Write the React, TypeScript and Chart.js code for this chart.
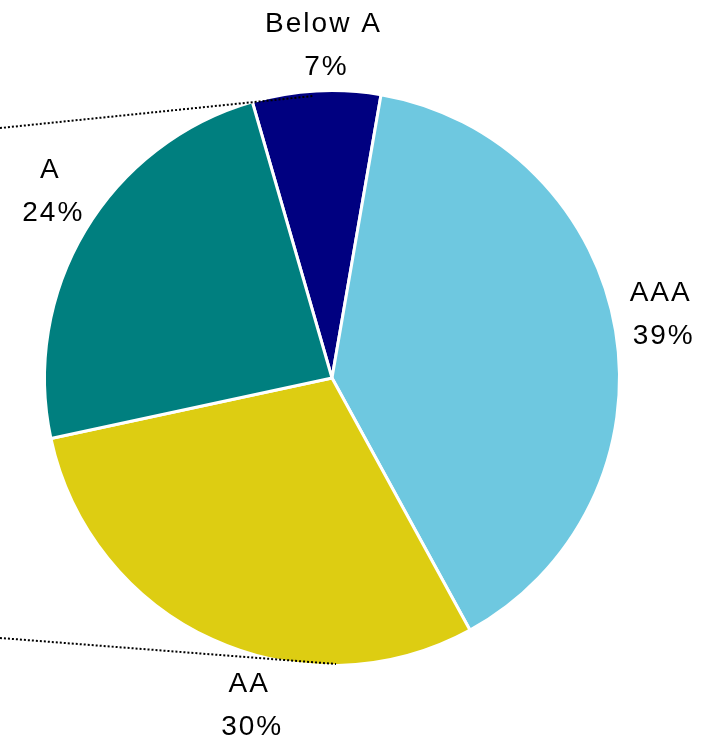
import React, { useEffect, useRef } from "react";
import { Chart, registerables } from "chart.js";

Chart.register(...registerables);

const categories = ["Below A", "AAA", "AA", "A"];
const shares = [7.2, 39.3, 29.6, 23.9];
const colors = ["#000080", "#6EC8E0", "#DDCD12", "#007F7F"];
// label placement tweaks (degrees off the slice middle, distance in radius units)
const labelAngleShift = [1.5, -1.5, -10.2, 2.6];
const labelDistance = [1.163, 1.167, 1.18, 1.185];
// decorative dotted connector lines (in radius units, relative to pie centre)
const connectors = [
  [[-1.161, -0.874], [-0.066, -0.986]],
  [[-1.161, 0.909], [0.014, 1.0]],
];

const labelPlugin = {
  id: "outerLabels",
  afterDraw(chart: any) {
    const ctx = chart.ctx;
    const meta = chart.getDatasetMeta(0);
    const arc0 = meta.data[0];
    const cx = arc0.x;
    const cy = arc0.y;
    const R = arc0.outerRadius - 1.5;

    ctx.save();
    ctx.strokeStyle = "#000";
    ctx.lineWidth = 2;
    ctx.setLineDash([2, 2]);
    connectors.forEach((seg) => {
      ctx.beginPath();
      ctx.moveTo(cx + seg[0][0] * R, cy + seg[0][1] * R);
      ctx.lineTo(cx + seg[1][0] * R, cy + seg[1][1] * R);
      ctx.stroke();
    });
    ctx.restore();

    ctx.save();
    ctx.font = "28px 'Liberation Sans', Arial, sans-serif";
    ctx.fillStyle = "#000";
    ctx.textAlign = "center";
    ctx.textBaseline = "middle";
    try {
      (ctx as any).letterSpacing = "2px";
    } catch (e) {}
    meta.data.forEach((arc: any, i: number) => {
      const mid = (arc.startAngle + arc.endAngle) / 2 + (labelAngleShift[i] * Math.PI) / 180;
      const d = R * labelDistance[i];
      const x = cx + Math.cos(mid) * d + 1;
      const y = cy + Math.sin(mid) * d;
      const pct = Math.round(shares[i]) + "%";
      ctx.fillText(categories[i], x, y - 21);
      ctx.fillText(pct, x + 3, y + 22);
    });
    ctx.restore();
  },
};

export default function App() {
  const ref = useRef<HTMLCanvasElement | null>(null);
  useEffect(() => {
    document.body.style.margin = "0";
    const chart = new Chart(ref.current!, {
      type: "pie",
      data: {
        labels: categories,
        datasets: [
          {
            data: shares,
            backgroundColor: colors,
            borderColor: "#ffffff",
            borderWidth: 3,
            hoverOffset: 0,
            offset: 0,
          },
        ],
      },
      options: {
        responsive: false,
        animation: false,
        rotation: -16.1,
        layout: { padding: { left: 43, top: 89, right: 88, bottom: 72 } },
        plugins: {
          legend: { display: false },
          tooltip: { enabled: false },
        },
      },
      plugins: [labelPlugin],
    });
    return () => chart.destroy();
  }, []);
  return (
    <div style={{ position: "absolute", left: 0, top: 0, width: 709, height: 739 }}>
      <canvas ref={ref} width={709} height={739} />
    </div>
  );
}
